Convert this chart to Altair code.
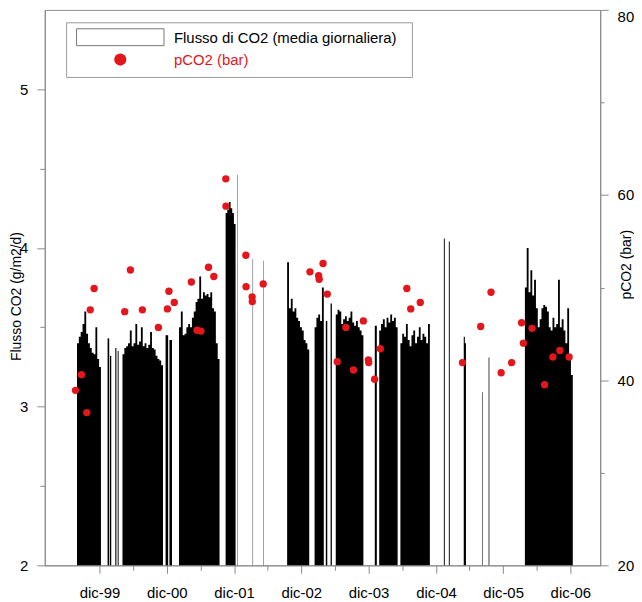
import altair as alt
import pandas as pd

# ---- daily CO2 flux, read as blocks of consecutive bars (start date, days per bar, values g/m2/d)
block_start = ["1999-08-01", "2000-01-14", "2000-01-27", "2000-02-25", "2000-03-09",
               "2000-04-04", "2000-11-24", "2000-12-15", "2001-02-05", "2001-10-16",
               "2001-12-17", "2002-03-12", "2002-05-10", "2002-09-15", "2003-02-11",
               "2003-04-13", "2003-05-09", "2003-06-06", "2004-01-04", "2004-01-28",
               "2004-05-22", "2005-01-13", "2005-02-09", "2005-05-01", "2005-08-08",
               "2005-09-13", "2006-03-29"]
block_step = [10, 9, 7, 6, 5,
              10, 14, 14, 10, 9,
              2, 2, 2, 10, 10,
              8, 7, 10, 11, 10,
              10, 5, 5, 6, 3,
              4, 10]
block_values = [
    [3.40, 3.44, 3.47, 3.52, 3.60, 3.46, 3.40, 3.37, 3.34, 3.33, 3.50, 3.30, 3.25],
    [3.43], [3.32], [3.37], [3.35],
    [3.33, 3.37, 3.38, 3.40, 3.48, 3.38, 3.40, 3.52, 3.39, 3.41, 3.50, 3.38, 3.40, 3.37,
     3.39, 3.47, 3.37, 3.36, 3.32, 3.30, 3.29, 3.26],
    [3.45], [3.42],
    [3.50, 3.60, 3.45, 3.46, 3.50, 3.52, 3.50, 3.56, 3.60, 3.66, 3.68, 3.82, 3.68, 3.72,
     3.70, 3.71, 3.69, 3.72, 3.62, 3.60, 3.40, 3.30],
    [4.22, 4.24, 4.29, 4.25, 4.22, 4.15],
    [4.46], [3.93], [3.92],
    [3.91, 3.62, 3.68, 3.60, 3.62, 3.56, 3.54, 3.50, 3.48, 3.42, 3.40, 3.36],
    [3.50, 3.56, 3.58, 3.54, 3.75],
    [3.54], [3.65],
    [3.58, 3.61, 3.60, 3.52, 3.55, 3.57, 3.54, 3.56, 3.60, 3.53, 3.51, 3.54, 3.50, 3.48, 3.45],
    [3.51],
    [3.48, 3.52, 3.55, 3.50, 3.56, 3.53, 3.58, 3.54, 3.56, 3.50],
    [3.40, 3.46, 3.44, 3.52, 3.42, 3.38, 3.45, 3.48, 3.40, 3.44, 3.50, 3.42, 3.46, 3.44, 3.40, 3.52],
    [4.06], [4.04], [3.44, 3.40], [3.09], [3.31],
    [3.75, 4.00, 3.72, 3.86, 3.70, 3.80, 3.62, 3.50, 3.55, 3.62, 3.64, 3.63, 3.60, 3.50,
     3.48, 3.56, 3.50, 3.52, 3.80, 3.50, 3.55, 3.48, 3.40, 3.62, 3.30, 3.20],
]

# ---- pCO2 samples (bar)
pco2_dates = ["1999-07-24", "1999-08-25", "1999-09-23", "1999-10-12", "1999-11-02",
              "2000-04-16", "2000-05-17", "2000-07-21", "2000-10-16", "2000-12-04",
              "2000-12-12", "2001-01-10", "2001-04-13", "2001-05-14", "2001-06-04",
              "2001-07-15", "2001-08-13", "2001-10-17", "2001-10-18", "2002-02-03",
              "2002-02-04", "2002-03-09", "2002-03-10", "2002-05-08", "2003-01-17",
              "2003-03-05", "2003-03-08", "2003-03-29", "2003-04-21", "2003-06-14",
              "2003-07-31", "2003-09-10", "2003-11-03", "2003-11-30", "2003-12-02",
              "2004-01-03", "2004-02-03", "2004-06-26", "2004-07-17", "2004-09-07",
              "2005-04-24", "2005-08-01", "2005-09-26", "2005-11-20", "2006-01-16",
              "2006-03-11", "2006-03-21", "2006-05-07", "2006-07-14", "2006-08-28",
              "2006-10-05", "2006-11-24"]
pco2_values = [38.9, 40.6, 36.5, 47.6, 49.9,
               47.4, 51.9, 47.6, 45.7, 47.7,
               49.6, 48.4, 50.6, 45.4, 45.3,
               52.2, 51.2, 61.75, 58.8, 53.5,
               50.1, 49.0, 48.5, 50.4, 51.7,
               51.3, 50.9, 52.6, 49.3, 42.0,
               45.7, 41.1, 46.4, 42.2, 41.9,
               40.1, 43.4, 49.9, 47.7, 48.4,
               41.9, 45.8, 49.5, 40.8, 41.9,
               46.2, 44.0, 45.6, 39.5, 42.5,
               43.2, 42.5]

tick_years = [1999, 2000, 2001, 2002, 2003, 2004, 2005, 2006]

legend_labels = ["Flusso di CO2 (media giornaliera)", "pCO2 (bar)"]

# step-area table: one group per block, closing point at the block's end
rows = []
for b, (s, st, vals) in enumerate(zip(block_start, block_step, block_values)):
    t0 = pd.Timestamp(s)
    for i, v in enumerate(vals):
        a = t0 + pd.Timedelta(days=st * i)
        rows.append({"block": b, "t": a.strftime("%Y-%m-%d"), "flux": v, "base": 2.0})
    end = t0 + pd.Timedelta(days=st * len(vals))
    rows.append({"block": b, "t": end.strftime("%Y-%m-%d"), "flux": vals[-1], "base": 2.0})
bars_df = pd.DataFrame(rows)
dots_df = pd.DataFrame({"t": pco2_dates, "pco2": pco2_values})

FONT = "Liberation Sans"
GRAY = "#8a8a8a"
RED = "#e3161b"

tick_vals = []
for y in tick_years:
    if y > 1999:
        tick_vals.append(alt.DateTime(year=y, month=6, date=1, utc=True))
    tick_vals.append(alt.DateTime(year=y, month=12, date=1, utc=True))

xscale = alt.Scale(type="utc", domain=[alt.DateTime(year=1999, month=2, date=7, utc=True),
                                       alt.DateTime(year=2007, month=5, date=12, utc=True)])
xaxis = alt.Axis(values=tick_vals, title=None, grid=False,
                 labelExpr="utcFormat(datum.value, '%m') == '12' ? 'dic-' + utcFormat(datum.value, '%y') : ''",
                 tickSize={"condition": {"test": "utcFormat(datum.value, '%m') == '12'", "value": 8}, "value": 5},
                 labelFontSize=15, labelPadding=12, labelFont=FONT, labelColor="black",
                 domainColor=GRAY, tickColor=GRAY, labelFlush=False, labelOverlap=False)

bars = alt.Chart(bars_df).mark_area(color="black", interpolate="step-after", opacity=1).encode(
    x=alt.X("t:T", scale=xscale, axis=xaxis),
    y=alt.Y("flux:Q", scale=alt.Scale(domain=[2, 5.5], nice=False, zero=False),
            axis=alt.Axis(values=[2, 2.5, 3, 3.5, 4, 4.5, 5], grid=False,
                          labelExpr="datum.value % 1 == 0 ? format(datum.value, 'd') : ''",
                          tickSize={"condition": {"test": "datum.value % 1 == 0", "value": 8}, "value": 5},
                          labelFontSize=15, labelPadding=9, labelFont=FONT, labelColor="black",
                          domainColor=GRAY, tickColor=GRAY,
                          title="Flusso CO2 (g/m2/d)", titleFont=FONT, titleFontSize=14,
                          titleFontWeight="normal", titleAngle=270, titleX=-24, titleY=288,
                          titleAlign="center", titleBaseline="alphabetic", titleColor="black")),
    y2="base:Q",
    detail="block:N",
)

dots = alt.Chart(dots_df).mark_circle(size=55, color=RED, opacity=1).encode(
    x=alt.X("t:T", scale=xscale, axis=xaxis),
    y=alt.Y("pco2:Q", scale=alt.Scale(domain=[20, 80], nice=False, zero=False),
            axis=alt.Axis(orient="right", values=[20, 30, 40, 50, 60, 70, 80], grid=False,
                          labelExpr="datum.value % 20 == 0 ? format(datum.value, 'd') : ''",
                          tickSize={"condition": {"test": "datum.value % 20 == 0", "value": 8}, "value": 4},
                          labelBaseline={"condition": {"test": "datum.value == 80", "value": "top"},
                                         "value": "middle"},
                          labelFontSize=15, labelPadding=9, labelFont=FONT, labelColor="black",
                          domainColor=GRAY, tickColor=GRAY,
                          title="pCO2 (bar)", titleFont=FONT, titleFontSize=14,
                          titleFontWeight="normal", titleAngle=270, titleX=26, titleY=256,
                          titleAlign="center", titleBaseline="middle", titleColor="black")),
)

one = pd.DataFrame({"k": [0]})
leg_box = alt.Chart(one).mark_rect(fill="white", stroke="#999999", strokeWidth=1).encode(
    x=alt.value(22), x2=alt.value(370), y=alt.value(13), y2=alt.value(68))
leg_sym = alt.Chart(one).mark_rect(fill="white", stroke="#777777", strokeWidth=1).encode(
    x=alt.value(32), x2=alt.value(120), y=alt.value(19), y2=alt.value(36))
leg_dot = alt.Chart(one).mark_circle(size=150, color=RED, opacity=1).encode(
    x=alt.value(76), y=alt.value(50))
leg_t1 = alt.Chart(one).mark_text(align="left", baseline="middle", font=FONT, fontSize=15,
                                   color="black", text=legend_labels[0]).encode(
    x=alt.value(130), y=alt.value(28))
leg_t2 = alt.Chart(one).mark_text(align="left", baseline="middle", font=FONT, fontSize=15,
                                   color=RED, text=legend_labels[1]).encode(
    x=alt.value(130), y=alt.value(50))

chart = alt.layer(bars, dots, leg_box, leg_sym, leg_dot, leg_t1, leg_t2).resolve_scale(
    y="independent"
).properties(
    width=559, height=559,
    autosize=alt.AutoSizeParams(type="none"),
    padding={"left": 37, "top": 0, "right": 34, "bottom": 33},
    background="white",
).configure_view(stroke=GRAY, strokeWidth=1)

chart.save("out.html", embed_options={"renderer": "svg", "actions": False})
